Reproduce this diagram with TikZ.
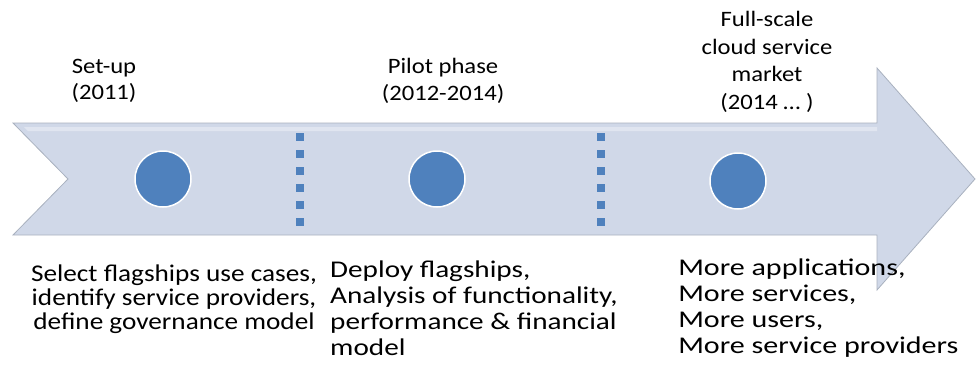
\documentclass[tikz,border=0pt]{standalone}
\usepackage{fontspec}
\setmainfont{Carlito}
\usetikzlibrary{positioning}

\definecolor{arrowfill}{HTML}{D0D8E8}
\definecolor{arrowedge}{HTML}{A9B1BF}
\definecolor{dotblue}{HTML}{4F81BD}

\begin{document}
\begin{tikzpicture}[x=1bp, y=-1bp]
    % Styles
    \tikzstyle{milestone} = [circle, draw=white, line width=1.5pt, fill=dotblue, minimum size=56bp, inner sep=0pt]
    \tikzstyle{phase} = [align=center, inner sep=0pt, xscale=1.12, transform shape, font=\fontsize{22bp}{26.5bp}\selectfont]
    \tikzstyle{todo} = [align=left, inner sep=0pt, xscale=1.17, transform shape, font=\fontsize{24bp}{26bp}\selectfont]
    \tikzstyle{sep} = [fill=dotblue]

    \useasboundingbox (0,0) rectangle (976,376);

    % Arrow
    \draw [arrowedge, fill=arrowfill, line width=0.8pt, line join=miter]
        (13,123) -- (877,123) -- (877,68) -- (975,179) -- (877,290) -- (877,235)
        -- (13,235) -- (68,179) -- cycle;
    \fill [white, opacity=0.35] (24,127) -- (877,127) -- (877,131) -- (28,131) -- cycle;

    % Separators
    \foreach \x in {300, 601} {
        \foreach \y in {0,...,5}
            \fill [sep] (\x-4, 137+\y*17-4) rectangle (\x+4, 137+\y*17+4);
    }

    % Nodes
    \node [milestone] (setup) at (163,179) {};
    \node [milestone] (pilot) at (437,179) {};
    \node [milestone] (market) at (738,181) {};

    \node [phase] (setuptitle) at (104,81) {Set-up\\(2011)};
    \node [phase] (pilottitle) at (443,81) {Pilot phase\\(2012-2014)};
    \node [phase, font=\fontsize{22bp}{27.5bp}\selectfont] (markettitle) at (767,62) {Full-scale\\cloud service\\market\\(2014 … )};

    \node [todo, align=center, xscale=0.97, font=\fontsize{24bp}{24bp}\selectfont] (setuptext) at (174,299)
        {Select flagships use cases,\\identify service providers,\\define governance model};
    \node [todo, anchor=west, xscale=1.04] (pilottext) at (330,308)
        {Deploy flagships,\\Analysis of functionality,\\performance \& financial\\model};
    \node [todo, anchor=west, xscale=1.07] (markettext) at (678,308.5)
        {More applications,\\More services,\\More users,\\More service providers};

\end{tikzpicture}
\end{document}
